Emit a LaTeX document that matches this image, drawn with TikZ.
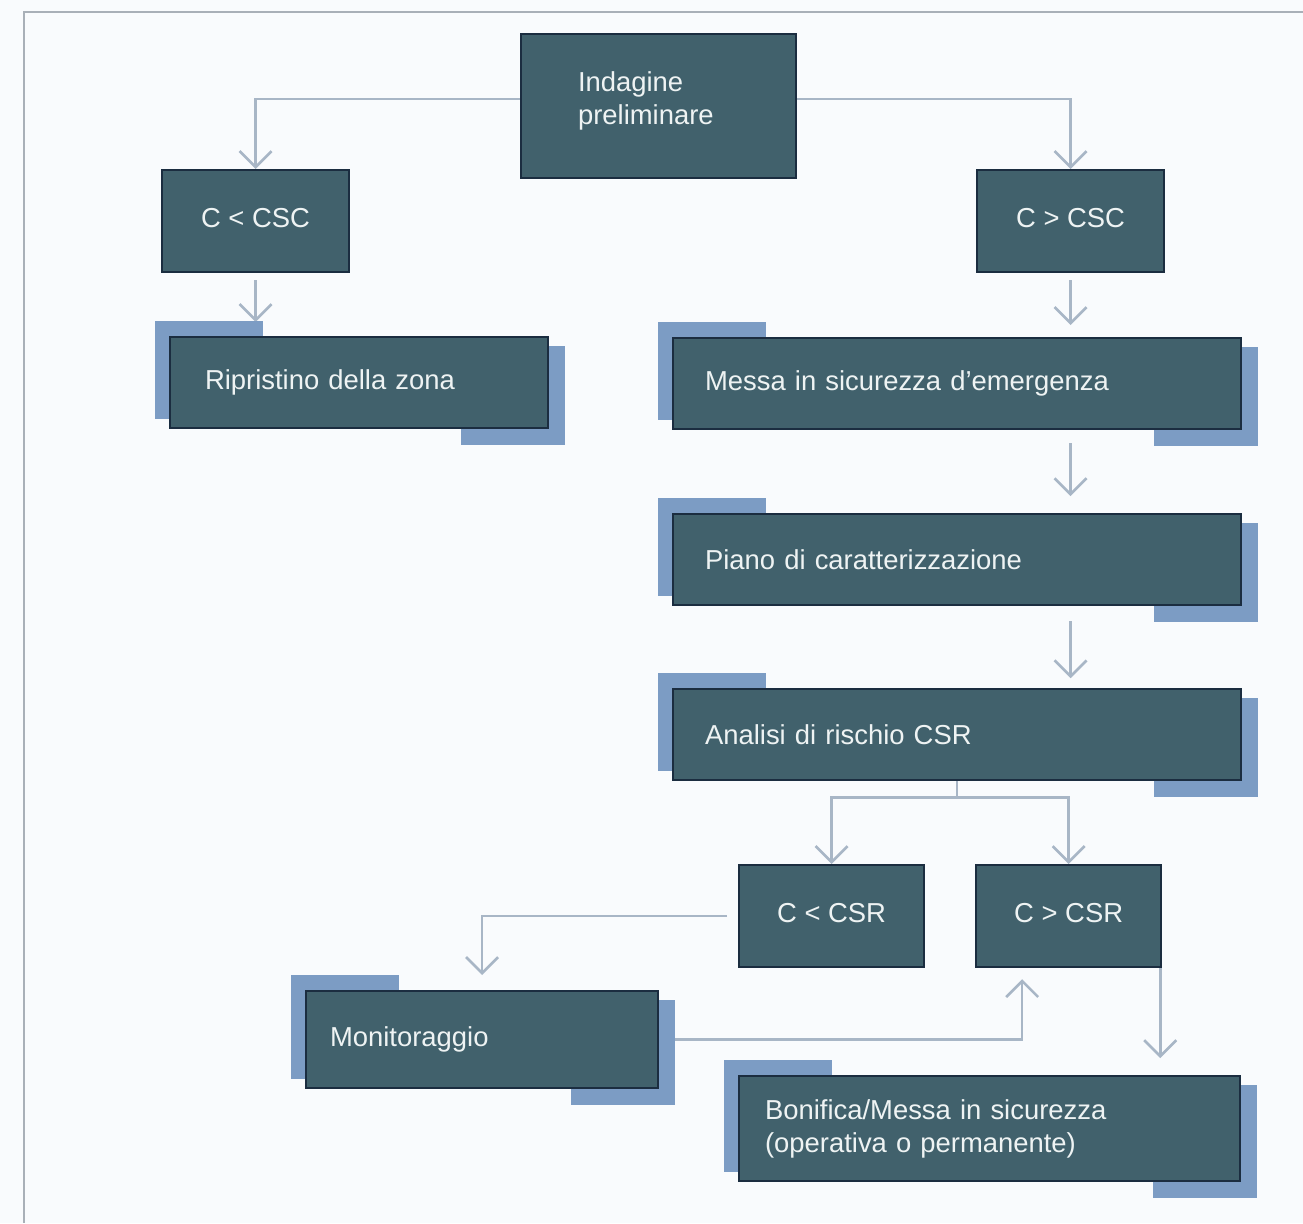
\documentclass[tikz,border=0pt]{standalone}
\usepackage{fontspec}
\setmainfont{Liberation Sans}
\usetikzlibrary{arrows.meta, positioning, calc}

\definecolor{boxfill}{HTML}{41616C}
\definecolor{boxline}{HTML}{1B2D40}
\definecolor{boxtext}{HTML}{EEF3F3}
\definecolor{tabblue}{HTML}{7C9CC4}
\definecolor{linkgray}{HTML}{A8B6C6}
\definecolor{paper}{HTML}{F9FBFD}
\definecolor{framegray}{HTML}{A9B0B8}

\pgfdeclarelayer{paperlayer}
\pgfdeclarelayer{backlayer}
\pgfsetlayers{paperlayer,backlayer,main}

% blue corner tabs behind a box
\newcommand{\cornertabs}[1]{
	\fill[tab] ($(#1.north west)+(-0.14,0.15)$) rectangle ($(#1.south west)+(0.94,0.10)$);
	\fill[tab] ($(#1.north east)+(-0.88,-0.10)$) rectangle ($(#1.south east)+(0.16,-0.16)$);
}

\begin{document}
\begin{tikzpicture}[
		box/.style={draw=boxline, fill=boxfill, line width=0.6pt, text=boxtext,
			font=\fontsize{7.8}{9.4}\selectfont, anchor=north west, inner ysep=0pt},
		small/.style={box, minimum width=1.87cm, minimum height=1.02cm, align=center,
			text height=0.22cm, text depth=0.10cm},
		stage/.style={box, minimum height=0.91cm, align=left, inner xsep=0.32cm},
		tab/.style={tabblue},
		link/.style={draw=linkgray, line width=0.75pt},
		arr/.style={link, -{Straight Barb[length=1.6mm, width=3.2mm, line width=0.75pt]}},
	]
	\useasboundingbox (0,0) rectangle (13.03,-12.23);

	% -- paper and frame --
	\begin{pgfonlayer}{paperlayer}
		\fill[paper] (0,0) rectangle (13.03,-12.23);
		\draw[framegray, line width=0.7pt] (13.03,-0.12) -- (0.24,-0.12) -- (0.24,-12.23);
	\end{pgfonlayer}

	% -- all boxes --

	\node [box,text width=1.61cm,inner xsep=0.57cm,minimum height=1.44cm,align=left,text depth=0.50cm] (ind) at (5.20,-0.33) {
		Indagine\\preliminare
	};
	\node [small] (csc-lt) at (1.61,-1.69) {C < CSC};
	\node [small] (csc-gt) at (9.76,-1.69) {C > CSC};

	\node [stage,text width=3.08cm,inner xsep=0.35cm] (rip) at (1.69,-3.36)
	{Ripristino della zona};
	\node [stage,text width=5.04cm] (mise) at (6.72,-3.37)
	{Messa in sicurezza d'emergenza};
	\node [stage,text width=5.04cm,below=0.83cm of mise] (piano)
	{Piano di caratterizzazione};
	\node [stage,text width=5.04cm,below=0.82cm of piano] (ana)
	{Analisi di rischio CSR};

	\node [small,minimum width=1.85cm] (csr-lt) at (7.38,-8.64) {C < CSR};
	\node [small,minimum width=1.85cm,right=0.50cm of csr-lt] (csr-gt) {C > CSR};

	\node [stage,text width=3.04cm,inner xsep=0.24cm,minimum height=0.97cm] (mon) at (3.05,-9.90)
	{Monitoraggio};
	\node [stage,text width=4.49cm,inner xsep=0.26cm,minimum height=1.05cm] (bon) at (7.38,-10.75)
	{Bonifica/Messa in sicurezza\\(operativa o permanente)};

	\coordinate (rise) at ($(csr-gt.south west)+(0.47,0)$);
	\coordinate (drop) at ($(csr-gt.south east)+(-0.02,0)$);

	\begin{pgfonlayer}{backlayer}
		% -- first split --
		\draw[arr] ($(ind.west)+(0,0.07)$) -| (csc-lt.north);
		\draw[arr] ($(ind.east)+(0,0.07)$) -| (csc-gt.north);

		\draw[arr, shorten <=0.07cm, shorten >=0.14cm] (csc-lt.south) -- (csc-lt.south |- rip.north);
		\draw[arr, shorten <=0.07cm, shorten >=0.12cm] (csc-gt.south) -- (csc-gt.south |- mise.north);

		% -- right column --
		\draw[arr, shorten <=0.13cm, shorten >=0.17cm] (mise.south -| csc-gt.south) -- (piano.north -| csc-gt.south);
		\draw[arr, shorten <=0.15cm, shorten >=0.10cm] (piano.south -| csc-gt.south) -- (ana.north -| csc-gt.south);

		% -- second split --
		\draw[link] (ana.south) -- ++(0,-0.16) coordinate (fork);
		\draw[arr] (fork) -| (csr-lt.north);
		\draw[arr] (fork) -| (csr-gt.north);

		\draw[arr, shorten <=0.11cm, shorten >=0.15cm] (csr-lt.west) -| (mon.north);
		\draw[arr, shorten >=0.11cm] (mon.east) -| (rise);
		\draw[arr, shorten >=0.17cm] (drop) -- (drop |- bon.north);

		% -- tabs --
		\cornertabs{rip}
		\cornertabs{mise}
		\cornertabs{piano}
		\cornertabs{ana}
		\cornertabs{mon}
		\cornertabs{bon}
	\end{pgfonlayer}
\end{tikzpicture}
\end{document}
